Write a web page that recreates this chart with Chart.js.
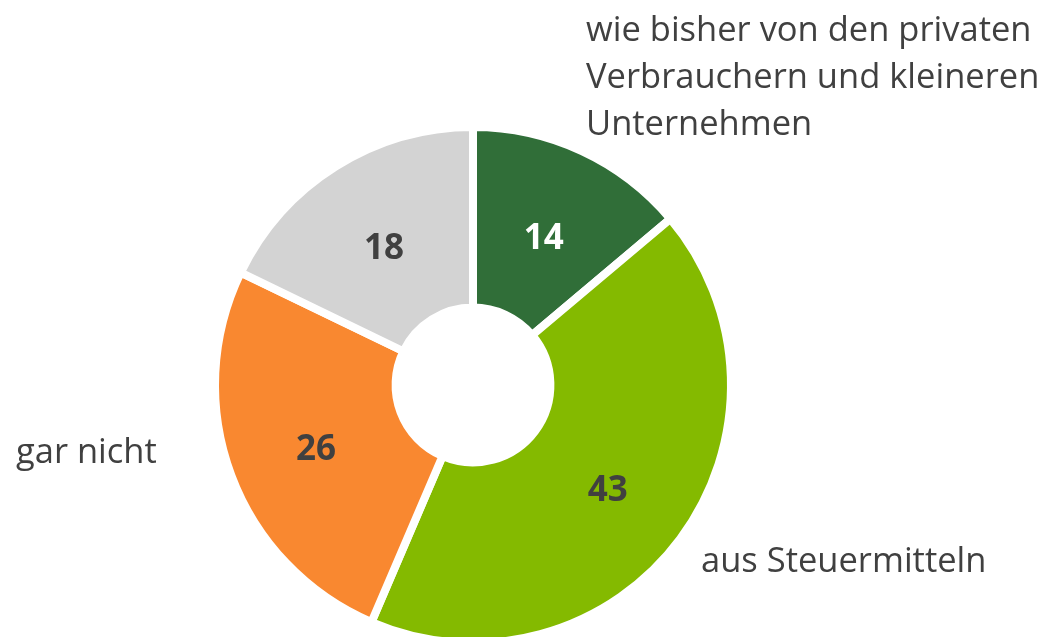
<!DOCTYPE html>
<html>
<head>
<meta charset="utf-8">
<script src="https://cdn.jsdelivr.net/npm/chart.js@4.4.1/dist/chart.umd.min.js"></script>
<style>
  html, body { margin: 0; padding: 0; background: #ffffff; overflow: hidden; }
  #wrap { position: absolute; left: 0; top: 0; width: 1048px; height: 660px; }
</style>
</head>
<body>
<div id="wrap"><canvas id="c"></canvas></div>
<script>
// ---- data ----
const categories = [
  "wie bisher von den privaten Verbrauchern und kleineren Unternehmen",
  "aus Steuermitteln",
  "gar nicht",
  ""
];
const values = [14, 43, 26, 18];
const valueLabels = ["14", "43", "26", "18"];
const sliceColors = ["#306E38", "#84BA00", "#F98830", "#D3D3D3"];
const valueLabelColors = ["#FFFFFF", "#404040", "#404040", "#404040"];
// category label text broken into lines as in the picture
const categoryLines = [
  ["wie bisher von den privaten", "Verbrauchern und kleineren", "Unternehmen"],
  ["aus Steuermitteln"],
  ["gar nicht"],
  []
];

const FONT = "'Open Sans', 'DejaVu Sans', sans-serif";

const labelPlugin = {
  id: 'labelPlugin',
  afterDatasetsDraw(chart) {
    const ctx = chart.ctx;
    const meta = chart.getDatasetMeta(0);
    ctx.save();
    // value labels in slices
    ctx.font = "bold 35px " + FONT;
    ctx.textAlign = 'center';
    ctx.textBaseline = 'middle';
    meta.data.forEach((arc, i) => {
      const p = arc.getProps(['x', 'y', 'startAngle', 'endAngle', 'innerRadius', 'outerRadius'], true);
      const mid = (p.startAngle + p.endAngle) / 2;
      const r = (p.innerRadius + p.outerRadius) / 2;
      ctx.fillStyle = valueLabelColors[i];
      ctx.fillText(valueLabels[i], p.x + Math.cos(mid) * r, p.y + Math.sin(mid) * r + 6);
    });
    // category labels
    const pos = chart.options.plugins.labelPlugin.positions;
    ctx.font = "34.5px " + FONT;
    ctx.textAlign = 'left';
    ctx.textBaseline = 'alphabetic';
    ctx.fillStyle = '#404040';
    categoryLines.forEach((lines, i) => {
      const ps = pos[i];
      if (!ps) return;
      lines.forEach((ln, j) => {
        ctx.fillText(ln, ps.x, ps.y + j * ps.lh);
      });
    });
    ctx.restore();
  }
};

new Chart(document.getElementById('c'), {
  type: 'doughnut',
  data: {
    labels: categories,
    datasets: [{
      data: values,
      backgroundColor: sliceColors,
      borderColor: '#FFFFFF',
      borderWidth: 8,
      hoverOffset: 0
    }]
  },
  options: {
    responsive: true,
    maintainAspectRatio: false,
    animation: false,
    cutout: '30%',
    layout: { padding: { left: 211, top: 123, right: 313, bottom: 13 } },
    plugins: {
      legend: { display: false },
      tooltip: { enabled: false },
      labelPlugin: {
        positions: [
          { x: 586, y: 41, lh: 47 },
          { x: 701, y: 572, lh: 47 },
          { x: 16, y: 463, lh: 47 },
          null
        ]
      }
    }
  },
  plugins: [labelPlugin]
});
</script>
</body>
</html>
